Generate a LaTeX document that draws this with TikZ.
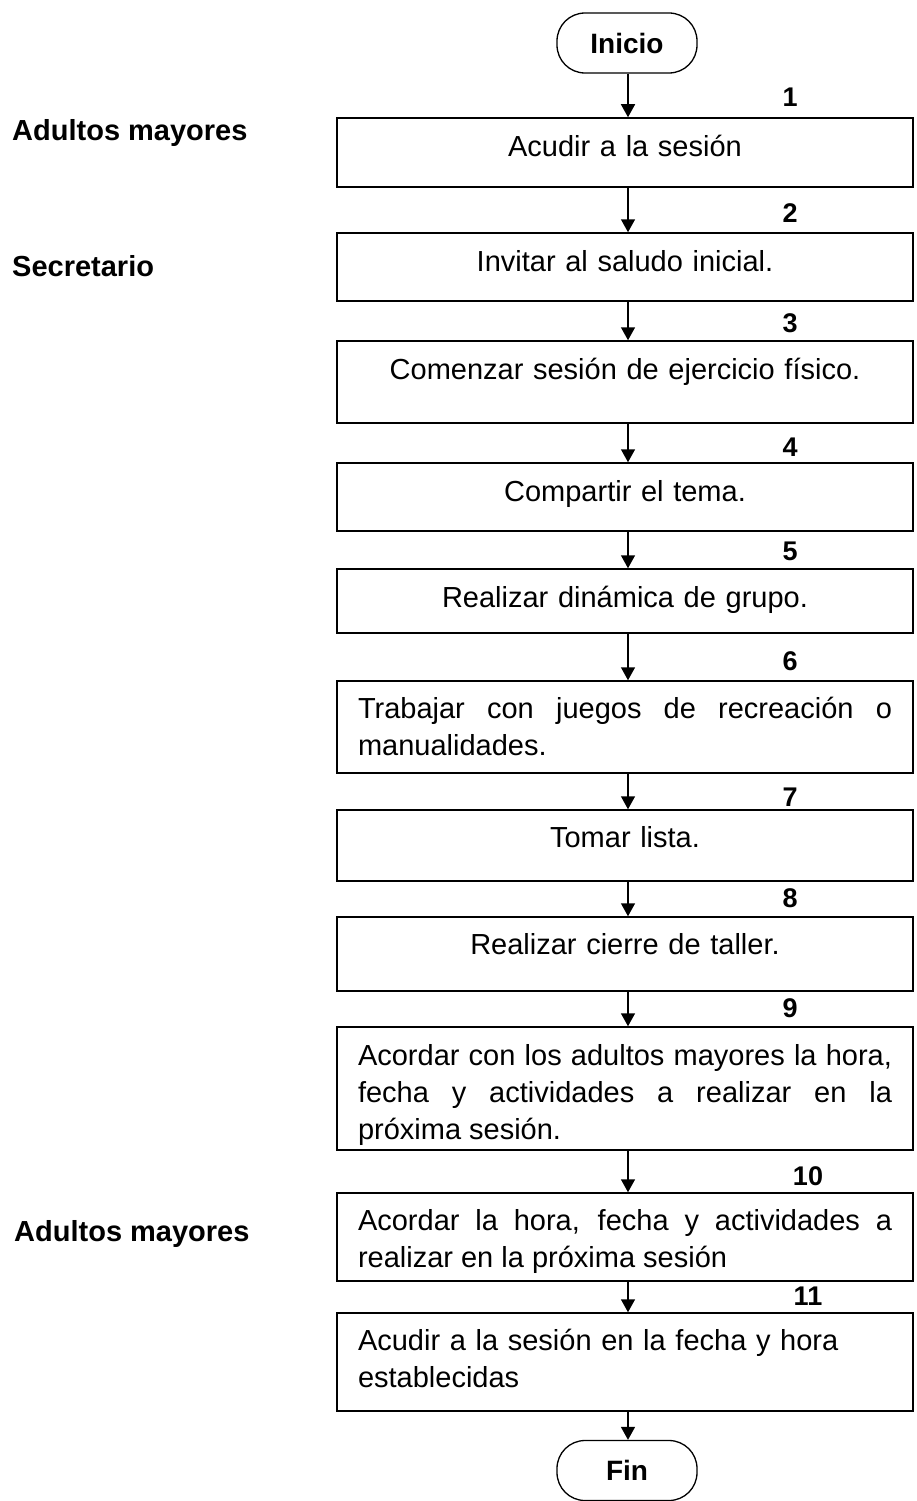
\documentclass[tikz,border=0pt]{standalone}
\usepackage{fontspec}
\setmainfont{Liberation Sans}
\usetikzlibrary{arrows.meta}
\hyphenpenalty=10000
\exhyphenpenalty=10000
\begin{document}
\begin{tikzpicture}[x=1pt,y=1pt,
  procbox/.style={draw,line width=1.5pt,minimum width=576pt,inner sep=0pt},
  termbox/.style={draw,line width=1.3pt,rounded corners=28pt,minimum width=140pt,minimum height=60pt,inner sep=0pt,font=\fontsize{28}{34}\selectfont\bfseries},
  boxtext/.style={anchor=north,inner sep=0pt,text width=534pt,font=\fontsize{29}{37}\selectfont},
  numlbl/.style={anchor=base,inner sep=0pt,font=\fontsize{27}{30}\selectfont\bfseries},
  rolelbl/.style={anchor=base west,inner sep=0pt,font=\fontsize{29}{34}\selectfont\bfseries},
  arr/.style={line width=1.5pt,-{Triangle[length=13pt,width=14pt]}}]
\useasboundingbox (0,0) rectangle (916,-1501);

\node[termbox] (inicio) at (627,-43) {Inicio};
\node[termbox] (fin) at (627,-1470.5) {Fin};
\coordinate (ax) at (628,0);

\node[procbox,minimum height=69pt] (b1) at (625,-152.5) {};
\node[procbox,minimum height=68pt] (b2) at (625,-267) {};
\node[procbox,minimum height=82pt] (b3) at (625,-382) {};
\node[procbox,minimum height=68pt] (b4) at (625,-497) {};
\node[procbox,minimum height=64pt] (b5) at (625,-601) {};
\node[procbox,minimum height=92pt] (b6) at (625,-727) {};
\node[procbox,minimum height=71pt] (b7) at (625,-845.5) {};
\node[procbox,minimum height=74pt] (b8) at (625,-954) {};
\node[procbox,minimum height=123pt] (b9) at (625,-1088.5) {};
\node[procbox,minimum height=88pt] (b10) at (625,-1237) {};
\node[procbox,minimum height=98pt] (b11) at (625,-1362) {};

\node[boxtext,align=center] (t1) at ([yshift=-13pt]b1.north) {\relax\strut Acudir a la sesión};
\node[boxtext,align=center] (t2) at ([yshift=-13pt]b2.north) {\relax\strut Invitar al saludo inicial.};
\node[boxtext,align=center] (t3) at ([yshift=-13pt]b3.north) {\relax\strut Comenzar sesión de ejercicio físico.};
\node[boxtext,align=center] (t4) at ([yshift=-13pt]b4.north) {\relax\strut Compartir el tema.};
\node[boxtext,align=center] (t5) at ([yshift=-13pt]b5.north) {\relax\strut Realizar dinámica de grupo.};
\node[boxtext,align=justify] (t6) at ([yshift=-12pt]b6.north) {\relax\strut Trabajar con juegos de recreación o manualidades.};
\node[boxtext,align=center] (t7) at ([yshift=-12pt]b7.north) {\relax\strut Tomar lista.};
\node[boxtext,align=center] (t8) at ([yshift=-12pt]b8.north) {\relax\strut Realizar cierre de taller.};
\node[boxtext,align=justify] (t9) at ([yshift=-13pt]b9.north) {\relax\strut Acordar con los adultos mayores la hora, fecha y actividades a realizar en la próxima sesión.};
\node[boxtext,align=justify] (t10) at ([yshift=-12pt]b10.north) {\relax\strut Acordar la hora, fecha y actividades a realizar en la próxima sesión};
\node[boxtext,align=left] (t11) at ([yshift=-12pt]b11.north) {\relax\strut Acudir a la sesión en la fecha y hora establecidas};

\node[numlbl] (n1) at (790,-107) {1};
\node[numlbl] (n2) at (790,-222) {2};
\node[numlbl] (n3) at (790,-332) {3};
\node[numlbl] (n4) at (790,-456) {4};
\node[numlbl] (n5) at (790,-560) {5};
\node[numlbl] (n6) at (790,-670) {6};
\node[numlbl] (n7) at (790,-806) {7};
\node[numlbl] (n8) at (790,-907) {8};
\node[numlbl] (n9) at (790,-1017) {9};
\node[numlbl] (n10) at (808,-1185) {10};
\node[numlbl] (n11) at (808,-1305) {11};

\node[rolelbl] (r1) at (12,-141) {Adultos mayores};
\node[rolelbl] (r2) at (12,-276) {Secretario};
\node[rolelbl] (r3) at (14,-1241) {Adultos mayores};

\draw[arr] (inicio.south -| ax) -- (b1.north -| ax);
\draw[arr] (b1.south -| ax) -- (b2.north -| ax);
\draw[arr] (b2.south -| ax) -- (b3.north -| ax);
\draw[arr] (b3.south -| ax) -- (b4.north -| ax);
\draw[arr] (b4.south -| ax) -- (b5.north -| ax);
\draw[arr] (b5.south -| ax) -- (b6.north -| ax);
\draw[arr] (b6.south -| ax) -- (b7.north -| ax);
\draw[arr] (b7.south -| ax) -- (b8.north -| ax);
\draw[arr] (b8.south -| ax) -- (b9.north -| ax);
\draw[arr] (b9.south -| ax) -- (b10.north -| ax);
\draw[arr] (b10.south -| ax) -- (b11.north -| ax);
\draw[arr] (b11.south -| ax) -- (fin.north -| ax);
\end{tikzpicture}
\end{document}
